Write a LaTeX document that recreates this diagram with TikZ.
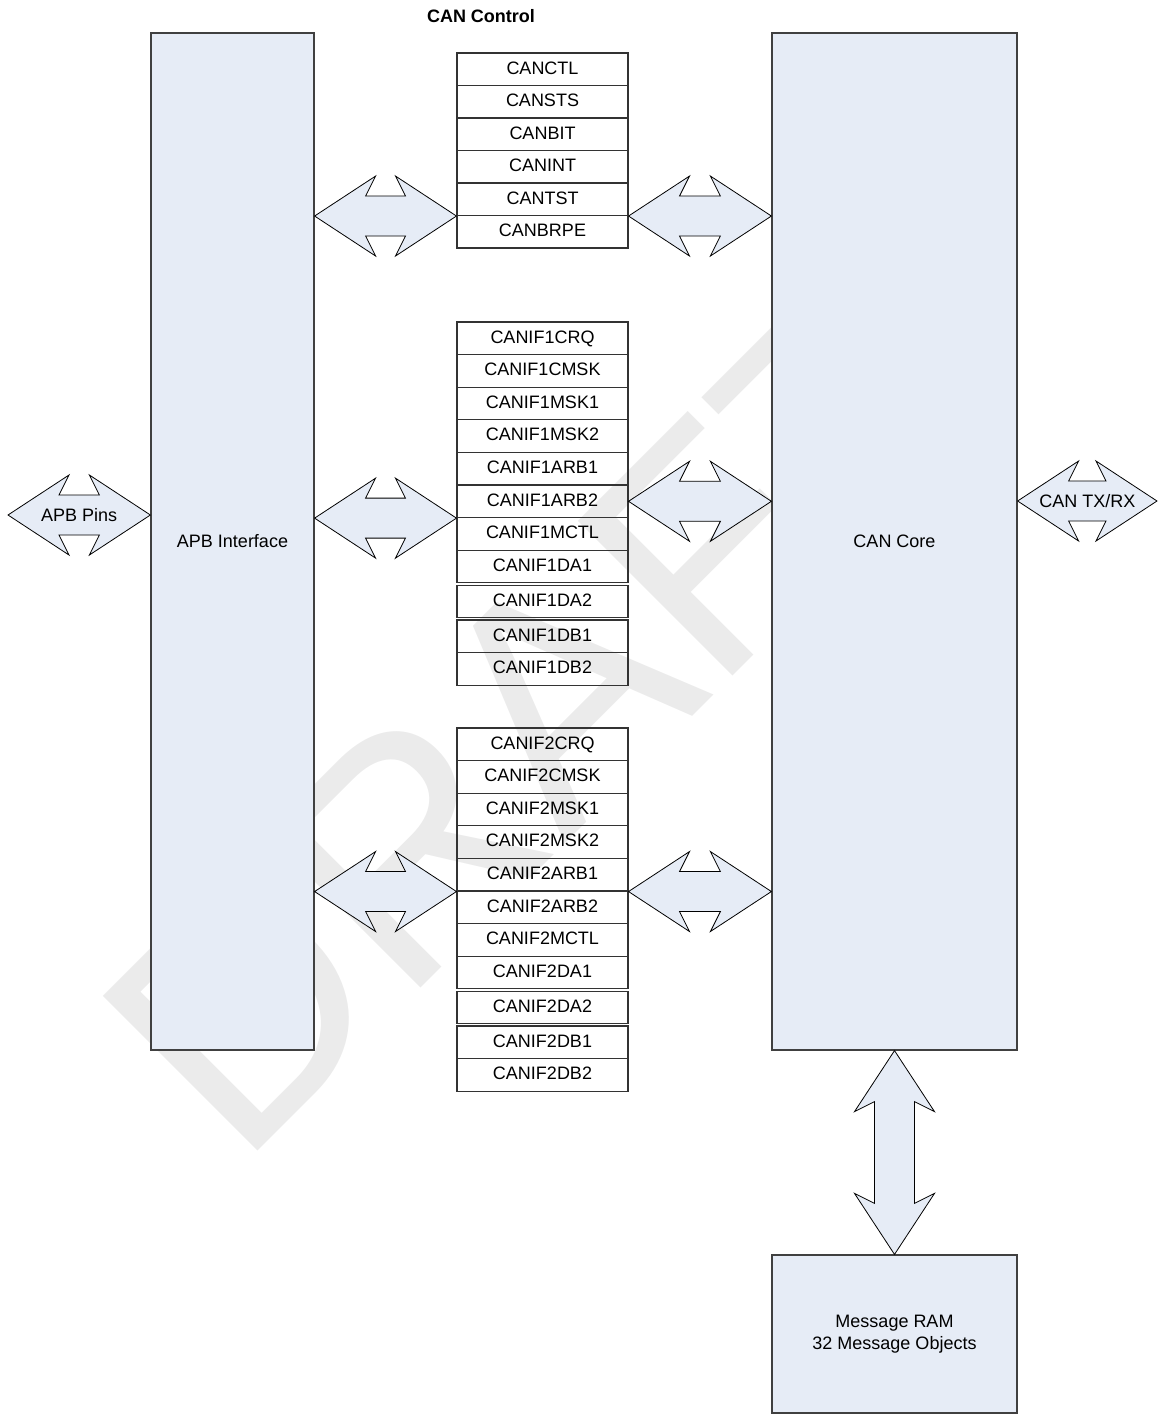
\documentclass[tikz,border=0pt]{standalone}
\usepackage{fontspec}
\setmainfont{Liberation Sans}
\usepackage{tikz}
\usetikzlibrary{calc, positioning}
\usepackage{xcolor}
\definecolor{boxblue}{RGB}{230,236,246}

% block arrow with a head at both ends, from tip #1 to tip #2
\newcommand{\busarrow}[2]{%
  \draw[bus] (#1)
    -- ($(#1)!45.75pt!(#2)!30pt!90:(#2)$)
    -- ($(#1)!38.25pt!(#2)!15pt!90:(#2)$)
    -- ($(#2)!38.25pt!(#1)!15pt!-90:(#1)$)
    -- ($(#2)!45.75pt!(#1)!30pt!-90:(#1)$)
    -- (#2)
    -- ($(#2)!45.75pt!(#1)!30pt!90:(#1)$)
    -- ($(#2)!38.25pt!(#1)!15pt!90:(#1)$)
    -- ($(#1)!38.25pt!(#2)!15pt!-90:(#2)$)
    -- ($(#1)!45.75pt!(#2)!30pt!-90:(#2)$)
    -- cycle;}

\begin{document}
\begin{tikzpicture}[x=0.75pt, y=-0.75pt,
  font=\fontsize{13.5}{16.5}\selectfont,
  bigbox/.style={draw=black!75, line width=0.9pt, fill=boxblue, inner sep=0pt},
  regbox/.style={draw=black!80, line width=0.8pt, minimum width=128.25pt, minimum height=24.45pt,
    inner sep=0pt, text height=0.716em, text depth=0pt},
  bus/.style={draw=black, line width=0.6pt, fill=boxblue}]

  \useasboundingbox (0,0) rectangle (1165,1414);

  % watermark
  \node[anchor=base west, inner sep=0pt, rotate=45, text=black!8,
    font=\fontsize{238.5}{240}\selectfont] (draft) at (239.7,1169.3) {DRAFT};

  % main blocks
  \node[bigbox, minimum width=122.25pt, minimum height=762.75pt] (apb) at (232.5,541.5) {APB Interface};
  \node[bigbox, minimum width=183.75pt, minimum height=762.75pt] (core) at (894.5,541.5) {CAN Core};
  \node[bigbox, minimum width=183.75pt, minimum height=118.5pt, align=center] (ram) at (894.5,1334) {Message RAM\\32 Message Objects};

  % CAN control registers
  \node[font=\fontsize{13.5}{16.5}\selectfont\bfseries] (ctltitle) at (481,16) {CAN Control};
  \foreach \reg [count=\i] in {CANCTL,CANSTS,CANBIT,CANINT,CANTST,CANBRPE}
    \node[regbox, minimum height=24.375pt] (ctl-\i) at (542.5,{53+(\i-0.5)*32.5}) {\reg};

  % message interface registers
  \foreach \n/\ytop in {1/322, 2/728}
    \foreach \reg [count=\i] in {CRQ,CMSK,MSK1,MSK2,ARB1,ARB2,MCTL,DA1,DA2,DB1,DB2} {
      \pgfmathsetmacro\gap{(\i>8)*2.3+(\i>9)*2.3}
      \node[regbox] (if\n-\i) at (542.5,{\ytop+(\i-0.5)*32.6+\gap}) {CANIF\n\reg};
    }

  % arrow tips
  \coordinate (pinsL) at (8,515);
  \coordinate (pinsR) at (apb.west |- pinsL);
  \coordinate (txL) at (core.east |- 0,501);
  \coordinate (txR) at (1157,501);
  \coordinate (ctlL) at (apb.east |- ctl-5.south);
  \coordinate (ctlR) at (core.west |- ctl-5.south);
  \coordinate (ifaL) at (apb.east |- if1-6.south);
  \coordinate (ifaR) at (core.west |- if1-6.east);
  \coordinate (ifbL) at (apb.east |- if2-5.south);
  \coordinate (ifbR) at (core.west |- if2-5.south);

  % buses
  \busarrow{pinsL}{pinsR}
  \busarrow{txL}{txR}
  \busarrow{ctlL}{ctl-5.south west}
  \busarrow{ctl-5.south east}{ctlR}
  \busarrow{ifaL}{if1-6.south west}
  \busarrow{if1-6.east}{ifaR}
  \busarrow{ifbL}{if2-5.south west}
  \busarrow{if2-5.south east}{ifbR}
  \busarrow{core.south}{ram.north}

  % bus labels
  \node (pinslabel) at ($(pinsL)!0.5!(pinsR)$) {APB Pins};
  \node (txlabel) at ($(txL)!0.5!(txR)$) {CAN TX/RX};
\end{tikzpicture}
\end{document}
